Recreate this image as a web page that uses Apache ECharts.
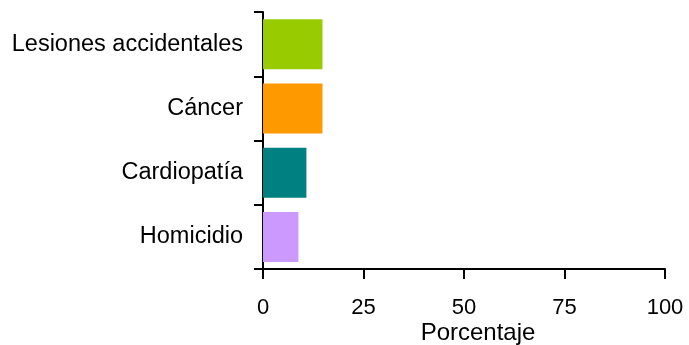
<!DOCTYPE html>
<html>
<head>
<meta charset="utf-8">
<script src="https://cdn.jsdelivr.net/npm/echarts@6/dist/echarts.min.js"></script>
<style>
  html, body { margin: 0; padding: 0; background: #fff; }
  #chart { width: 689px; height: 345px; }
</style>
</head>
<body>
<div id="chart"></div>
<script>
// Causes, listed top to bottom
const categories = ['Lesiones accidentales', 'Cáncer', 'Cardiopatía', 'Homicidio'];
const percentages = [14.8, 14.8, 10.8, 8.8];
const barColors = ['#99CC00', '#FF9900', '#008080', '#CC99FF'];
const xTicks = [0, 25, 50, 75, 100];

const font = '"Liberation Sans", Arial, sans-serif';
const chart = echarts.init(document.getElementById('chart'), null, { renderer: 'canvas' });

chart.setOption({
  animation: false,
  grid: { left: 263, right: 24, top: 12, bottom: 76, containLabel: false, outerBoundsMode: 'none' },
  xAxis: {
    type: 'value',
    min: xTicks[0],
    max: xTicks[xTicks.length - 1],
    interval: xTicks[1] - xTicks[0],
    name: 'Porcentaje',
    nameLocation: 'middle',
    nameGap: 52,
    nameMoveOverlap: false,
    nameTextStyle: { fontFamily: font, fontSize: 24, color: '#000', padding: [0, 0, 0, 28] },
    axisLine: { show: true, lineStyle: { color: '#000', width: 2 } },
    axisTick: { show: true, length: 10, lineStyle: { color: '#000', width: 2 } },
    axisLabel: { fontFamily: font, fontSize: 22, color: '#000', margin: 28 },
    splitLine: { show: false }
  },
  yAxis: {
    type: 'category',
    inverse: true,
    data: categories,
    axisLine: { show: true, lineStyle: { color: '#000', width: 2 } },
    axisTick: { show: true, length: 9, lineStyle: { color: '#000', width: 2 } },
    axisLabel: { fontFamily: font, fontSize: 23.5, color: '#000', margin: 20, padding: [5, 0, 0, 0] },
    splitLine: { show: false }
  },
  series: [{
    type: 'bar',
    barWidth: 50,
    data: percentages.map((v, i) => ({ value: v, itemStyle: { color: barColors[i] } }))
  }]
});
</script>
</body>
</html>
